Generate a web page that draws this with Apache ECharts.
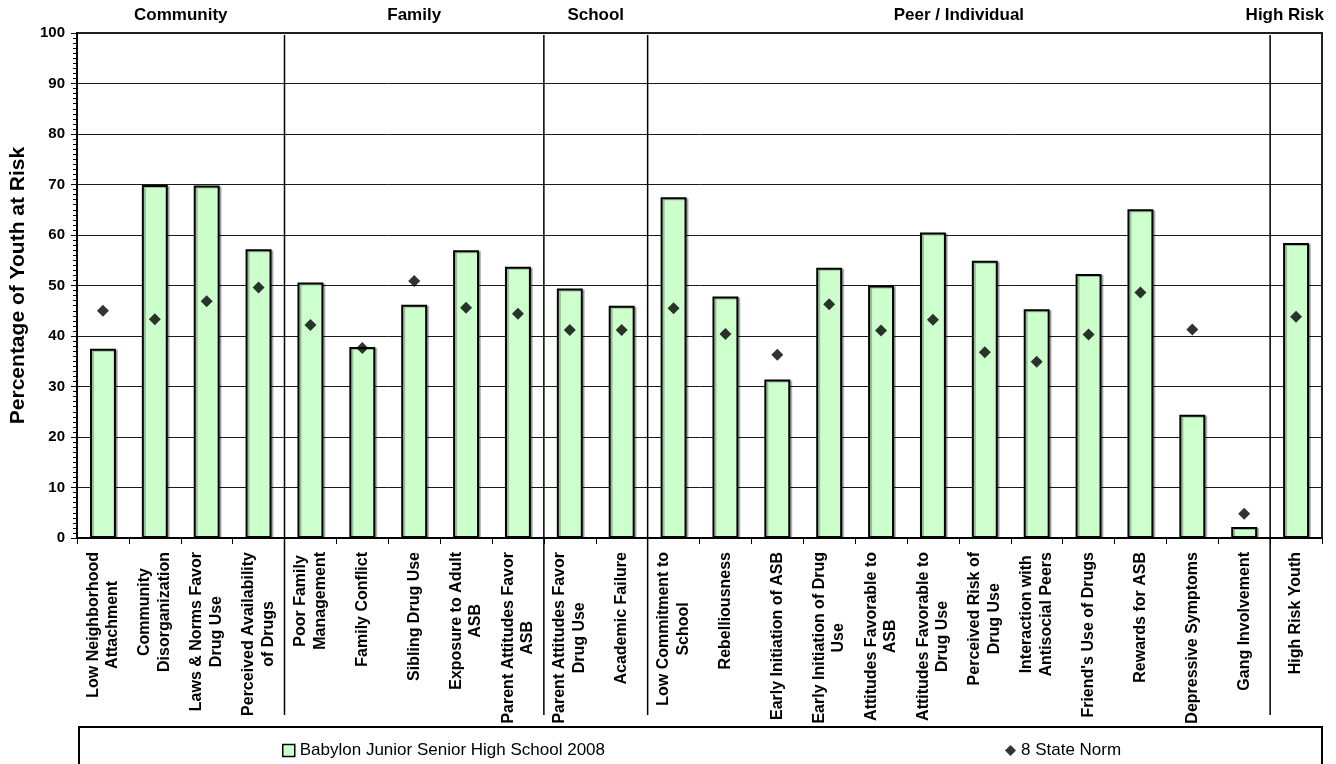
<!DOCTYPE html>
<html>
<head>
<meta charset="utf-8">
<title>Risk Factor Profile</title>
<script src="https://cdn.jsdelivr.net/npm/echarts@6/dist/echarts.min.js"></script>
<style>
  html, body { margin: 0; padding: 0; background: #fff; }
  #chart { width: 1336px; height: 764px; }
</style>
</head>
<body>
<div id="chart"></div>
<script>
// Risk factor scales (two-line labels split with \n)
const categories = [
  'Low Neighborhood\nAttachment',
  'Community\nDisorganization',
  'Laws & Norms Favor\nDrug Use',
  'Perceived Availability\nof Drugs',
  'Poor Family\nManagement',
  'Family Conflict',
  'Sibling Drug Use',
  'Exposure to Adult\nASB',
  'Parent Attitudes Favor\nASB',
  'Parent Attitudes Favor\nDrug Use',
  'Academic Failure',
  'Low Commitment to\nSchool',
  'Rebelliousness',
  'Early Initiation of ASB',
  'Early Initiation of Drug\nUse',
  'Attitudes Favorable to\nASB',
  'Attitudes Favorable to\nDrug Use',
  'Perceived Risk of\nDrug Use',
  'Interaction with\nAntisocial Peers',
  "Friend's Use of Drugs",
  'Rewards for ASB',
  'Depressive Symptoms',
  'Gang Involvement',
  'High Risk Youth'
];

// Percentage of students at risk, school survey 2008
const schoolValues = [37.5, 69.9, 69.8, 57.2, 50.6, 37.8, 46.2, 57.0, 53.7, 49.4, 46.0, 67.5,
                      47.8, 31.4, 53.5, 50.0, 60.5, 54.9, 45.3, 52.3, 65.1, 24.4, 2.2, 58.4];

// Eight-state comparison norm
const normValues = [45.0, 43.3, 46.9, 49.6, 42.2, 37.6, 50.9, 45.6, 44.4, 41.2, 41.2, 45.5,
                    40.4, 36.3, 46.3, 41.1, 43.2, 36.8, 34.9, 40.3, 48.6, 41.3, 4.8, 43.8];

// Domain groups and how many scales each covers
const groupNames = ['Community', 'Family', 'School', 'Peer / Individual', 'High Risk'];
const groupSizes = [4, 5, 2, 12, 1];

const seriesNames = ['Babylon Junior Senior High School 2008', '8 State Norm'];

const FONT = "'Liberation Sans', Arial, Helvetica, sans-serif";
const LABEL_SIZE = 16;
const LABEL_LINE = 19.5;

const chart = echarts.init(document.getElementById('chart'), null, { renderer: 'canvas' });

const option = {
  backgroundColor: '#ffffff',
  animation: false,
  textStyle: { fontFamily: FONT, color: '#000' },
  grid: {
    left: 77, right: 14, top: 33, bottom: 226,
    outerBoundsMode: 'none',
    show: true, borderColor: '#222', borderWidth: 2, backgroundColor: 'transparent'
  },
  legend: [
    {
      data: [seriesNames[0]],
      icon: 'rect',
      left: 277, top: 737,
      itemWidth: 12, itemHeight: 12,
      itemStyle: { borderWidth: 1.5, borderColor: '#000' },
      textStyle: { fontFamily: FONT, fontSize: 17, color: '#000' }
    },
    {
      data: [seriesNames[1]],
      left: 1000, top: 737,
      itemWidth: 11, itemHeight: 11,
      textStyle: { fontFamily: FONT, fontSize: 17, color: '#000' }
    }
  ],
  xAxis: {
    type: 'category',
    data: categories,
    boundaryGap: true,
    axisLine: { show: true, lineStyle: { color: '#000', width: 2 } },
    axisTick: { show: true, interval: 0, length: 6, lineStyle: { color: '#000', width: 1 } },
    splitLine: { show: false },
    // category names are drawn below as rotated, line-centred text
    axisLabel: { show: false, interval: 0 }
  },
  yAxis: {
    type: 'value',
    min: 0, max: 100, interval: 10,
    name: 'Percentage of Youth at Risk',
    nameLocation: 'middle',
    nameGap: 43,
    nameTextStyle: { fontFamily: FONT, fontSize: 21, fontWeight: 'bold', color: '#000' },
    axisLine: { show: true, lineStyle: { color: '#000', width: 2 } },
    axisTick: { show: true, length: 6, lineStyle: { color: '#000', width: 1 } },
    minorTick: { show: true, splitNumber: 10, length: 4, lineStyle: { color: '#000', width: 1 } },
    axisLabel: { fontFamily: FONT, fontSize: 15, fontWeight: 'bold', color: '#000', margin: 12 },
    splitLine: { show: true, lineStyle: { color: '#1a1a1a', width: 1 } }
  },
  series: [
    {
      name: seriesNames[0],
      type: 'bar',
      data: schoolValues,
      barWidth: '50%',
      itemStyle: {
        color: '#CCFFCC', borderColor: '#000', borderWidth: 2,
        shadowColor: 'rgba(0,0,0,0.25)', shadowOffsetX: 2, shadowOffsetY: 1, shadowBlur: 0
      },
      z: 2
    },
    {
      name: seriesNames[1],
      type: 'scatter',
      data: normValues,
      symbol: 'diamond',
      symbolSize: 12,
      itemStyle: { color: '#000' },
      z: 4
    }
  ]
};

chart.setOption(option);

// Category labels, domain dividers, domain headers and the legend frame,
// all placed from the axis scales
function drawDecorations() {
  const cx = i => chart.convertToPixel({ xAxisIndex: 0 }, i);
  const band = cx(1) - cx(0);
  const yTop = chart.convertToPixel({ yAxisIndex: 0 }, 100);
  const yBottom = chart.convertToPixel({ yAxisIndex: 0 }, 0);
  const plotLeft = cx(0) - band / 2;
  const plotRight = cx(categories.length - 1) + band / 2;

  const measureCtx = document.createElement('canvas').getContext('2d');
  measureCtx.font = 'bold ' + LABEL_SIZE + 'px ' + FONT;

  const elements = [];

  // Rotated category names: the block hangs from the axis, lines centred on each other
  categories.forEach((c, i) => {
    const lines = c.split('\n');
    const w = Math.max(...lines.map(s => measureCtx.measureText(s).width));
    const n = lines.length;
    lines.forEach((s, j) => {
      elements.push({
        type: 'text',
        x: cx(i) + (j - (n - 1) / 2) * LABEL_LINE,
        y: yBottom + 14 + w / 2,
        rotation: Math.PI / 2,
        style: {
          text: s,
          fontFamily: FONT, fontSize: LABEL_SIZE, fontWeight: 'bold', fill: '#000',
          align: 'center', verticalAlign: 'middle'
        },
        z: 10
      });
    });
  });

  let start = 0;
  groupNames.forEach((name, g) => {
    const end = start + groupSizes[g] - 1;
    const center = (cx(start) + cx(end)) / 2;
    const isLast = g === groupNames.length - 1;
    elements.push({
      type: 'text',
      x: isLast ? plotRight + 2 : center,
      y: 15,
      style: {
        text: name,
        fontFamily: FONT, fontSize: 17, fontWeight: 'bold', fill: '#000',
        align: isLast ? 'right' : 'center', verticalAlign: 'middle'
      },
      z: 10
    });
    if (!isLast) {
      const bx = cx(end) + band / 2;
      elements.push({
        type: 'line',
        shape: { x1: bx, y1: yTop + 2, x2: bx, y2: yBottom + 177 },
        style: { stroke: '#000', lineWidth: 1.5 },
        z: 10
      });
    }
    start = end + 1;
  });

  // Legend frame
  elements.push({
    type: 'rect',
    shape: { x: plotLeft + 2, y: 727, width: plotRight - plotLeft - 2, height: 60 },
    style: { fill: 'none', stroke: '#000', lineWidth: 2 },
    z: 0
  });

  chart.setOption({ graphic: { elements: elements } });
}

drawDecorations();
</script>
</body>
</html>
